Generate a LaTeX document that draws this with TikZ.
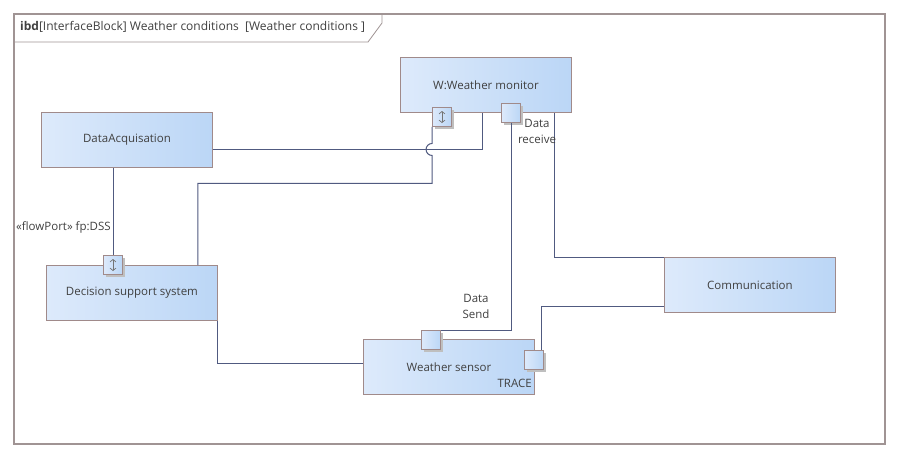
\documentclass[tikz,border=0pt]{standalone}
\usepackage{fontspec}
\setmainfont{Open Sans}
\usetikzlibrary{arrows.meta,shadows}
\definecolor{blkL}{HTML}{DDEAFB}
\definecolor{blkR}{HTML}{BBD6F6}
\definecolor{blkB}{HTML}{A08A8A}
\definecolor{wirec}{HTML}{505A80}
\definecolor{txt}{HTML}{404040}
\definecolor{frm}{HTML}{A09494}
\begin{document}
\begin{tikzpicture}[x=1pt,y=-1pt, font=\fontsize{11.5}{16}\selectfont, text=txt,
 block/.style={draw=blkB, line width=0.9pt, left color=blkL, right color=blkR, minimum width=171pt, minimum height=55pt, anchor=north west, inner sep=0pt},
 port/.style={draw=blkB, line width=0.9pt, left color=blkL, right color=blkR, minimum size=19pt, inner sep=0pt, drop shadow={shadow xshift=2pt,shadow yshift=-2pt,fill=black!25,opacity=1}},
 wire/.style={draw=wirec, line width=1pt},
 icon/.style={draw=black!55, line width=0.7pt, {Straight Barb[length=2.5pt,width=6pt]}-{Straight Barb[length=2.5pt,width=6pt]}},
 ]
\useasboundingbox (0,0) rectangle (900,459);
\fill[white] (0,0) rectangle (900,459);
% frame
\draw[frm, line width=1.4pt] (14,14) rectangle (885,444);
\draw[frm, line width=0.8pt] (14,42) -- (368,42) -- (382,23) -- (382,14);
\node[anchor=west, inner sep=0pt, font=\fontsize{12}{16}\selectfont] (title) at (20,27) {\textbf{ibd}[InterfaceBlock] Weather conditions~~[Weather conditions ]};
% blocks
\node[block] (wm) at (400,57) {W:Weather monitor};
\node[block] (da) at (41,112) {DataAcquisation};
\node[block] (dss) at (46,265) {Decision support system};
\node[block] (com) at (664,257) {Communication};
\node[block] (ws) at (363,339) {Weather sensor};
\node[anchor=east, inner sep=0pt] (trace) at (532,383) {TRACE};
% ports
\node[port] (wmfp) at (442,117) {};
\node[port] (wmdr) at (511,113) {};
\node[port] (dssfp) at (113,265) {};
\node[port] (wsds) at (431,340) {};
\node[port] (wstr) at (534,360) {};
\draw[icon] ([yshift=-6pt]wmfp.center) -- ([yshift=6pt]wmfp.center);
\draw[icon] ([yshift=-6pt]dssfp.center) -- ([yshift=6pt]dssfp.center);
% connectors
\draw[wire] ([yshift=-9.5pt]da.east) -| ([xshift=-3pt]wm.south);
\draw[wire] ([xshift=69pt]wm.south) |- (com.north west);
\draw[wire] ([yshift=-21.5pt]com.west) -| ([xshift=7pt]wstr.north);
\draw[wire] (dss.south east) |- ([yshift=3.5pt]ws.west);
\draw[wire] (wmfp.south west) -- ++(0,16.5) arc[start angle=90, end angle=270, radius=6pt] -- ++(0,28) -| ([xshift=66pt]dss.north);
\draw[wire] (dssfp.north |- da.south) -- (dssfp.north);
\draw[wire] (wmdr.south) -- (wmdr.south |- wsds.north east) -- (wsds.north east);
% labels
\node[anchor=west, inner sep=0pt] (fplbl) at (16,227) {«flowPort» fp:DSS};
\node[align=center, inner sep=0pt] (drlbl) at (537,131) {Data\\receive};
\node[align=center, inner sep=0pt] (dslbl) at (476,306) {Data\\Send};
\end{tikzpicture}
\end{document}
